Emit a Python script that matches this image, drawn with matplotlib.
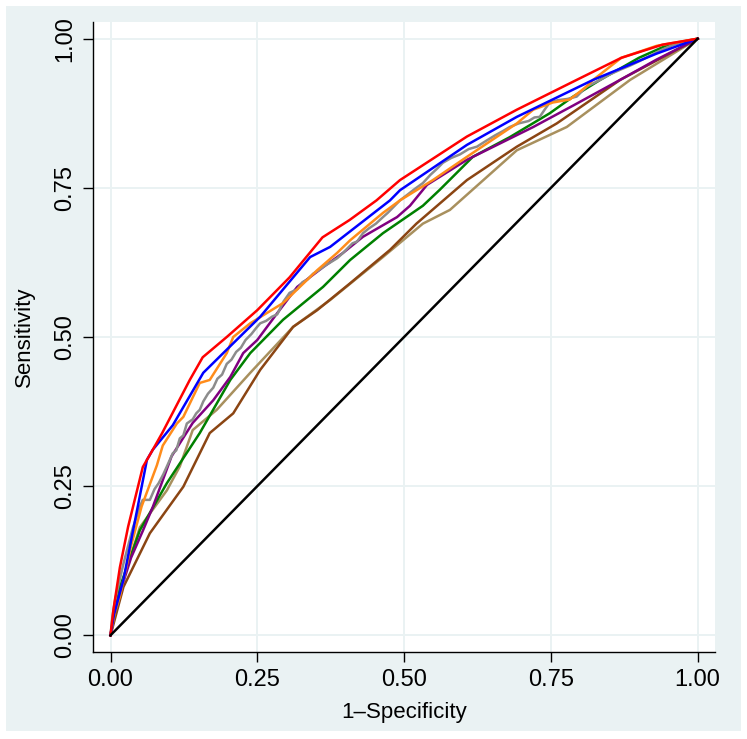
import matplotlib
matplotlib.use("Agg")
import matplotlib.pyplot as plt
from matplotlib.patches import Rectangle

# ── ROC curves (1-specificity, sensitivity) ───────────────────────────────────
red_x = [0, 0.005, 0.016, 0.03, 0.055, 0.072, 0.088, 0.135, 0.157, 0.198, 0.25,
         0.305, 0.361, 0.407, 0.453, 0.493, 0.607, 0.692, 0.794, 0.87, 0.94, 1.0]
red_y = [0, 0.043, 0.114, 0.182, 0.282, 0.311, 0.339, 0.428, 0.466, 0.5, 0.545,
         0.6, 0.667, 0.696, 0.729, 0.763, 0.836, 0.881, 0.931, 0.968, 0.99, 1.0]

blue_x = [0, 0.006, 0.022, 0.062, 0.072, 0.106, 0.158, 0.192, 0.255, 0.34, 0.374,
          0.476, 0.493, 0.607, 0.692, 0.822, 0.93, 1.0]
blue_y = [0, 0.035, 0.093, 0.294, 0.311, 0.352, 0.44, 0.473, 0.534, 0.634, 0.651,
          0.729, 0.746, 0.822, 0.869, 0.931, 0.975, 1.0]

orange_x = [0, 0.008, 0.016, 0.035, 0.053, 0.079, 0.089, 0.113, 0.124, 0.152, 0.169,
            0.198, 0.209, 0.238, 0.294, 0.352, 0.386, 0.408, 0.464, 0.493, 0.549,
            0.607, 0.692, 0.72, 0.753, 0.782, 0.811, 0.822, 0.87, 0.93, 1.0]
orange_y = [0, 0.04, 0.065, 0.15, 0.216, 0.285, 0.318, 0.355, 0.366, 0.423, 0.428,
            0.473, 0.5, 0.523, 0.557, 0.612, 0.641, 0.662, 0.708, 0.729, 0.763,
            0.802, 0.858, 0.881, 0.893, 0.898, 0.92, 0.931, 0.968, 0.988, 1.0]

gray_x = [0, 0.003, 0.008, 0.015, 0.022, 0.03, 0.038, 0.045, 0.05, 0.055, 0.067,
          0.075, 0.082, 0.09, 0.096, 0.106, 0.112, 0.118, 0.124, 0.13, 0.14, 0.146,
          0.152, 0.158, 0.166, 0.175, 0.182, 0.19, 0.198, 0.206, 0.214, 0.222, 0.23,
          0.24, 0.248, 0.255, 0.265, 0.275, 0.284, 0.295, 0.305, 0.318, 0.327, 0.335,
          0.345, 0.355, 0.366, 0.376, 0.386, 0.396, 0.405, 0.412, 0.42, 0.43, 0.44,
          0.452, 0.464, 0.472, 0.48, 0.493, 0.505, 0.518, 0.532, 0.545, 0.556, 0.566,
          0.58, 0.595, 0.61, 0.624, 0.64, 0.655, 0.668, 0.68, 0.695, 0.712, 0.722,
          0.731, 0.74, 0.748, 0.762, 0.778, 0.794, 0.803, 0.811, 0.822, 0.834, 0.85,
          0.868, 0.885, 0.9, 0.92, 0.94, 0.96, 0.98, 1.0]
gray_y = [0, 0.03, 0.06, 0.09, 0.12, 0.15, 0.18, 0.2, 0.216, 0.227, 0.227,
          0.245, 0.255, 0.27, 0.283, 0.305, 0.31, 0.33, 0.335, 0.355, 0.362, 0.372,
          0.378, 0.392, 0.405, 0.415, 0.43, 0.437, 0.455, 0.462, 0.475, 0.482, 0.495,
          0.505, 0.515, 0.523, 0.527, 0.534, 0.538, 0.56, 0.574, 0.58, 0.592, 0.596,
          0.606, 0.612, 0.62, 0.626, 0.632, 0.641, 0.65, 0.657, 0.66, 0.674, 0.682,
          0.69, 0.701, 0.708, 0.716, 0.729, 0.738, 0.748, 0.758, 0.772, 0.782, 0.792,
          0.8, 0.806, 0.815, 0.819, 0.829, 0.838, 0.845, 0.852, 0.858, 0.862, 0.868,
          0.869, 0.882, 0.893, 0.897, 0.899, 0.903, 0.912, 0.92, 0.925, 0.931, 0.94,
          0.948, 0.955, 0.962, 0.972, 0.982, 0.99, 0.996, 1.0]

purple_x = [0, 0.006, 0.016, 0.035, 0.055, 0.072, 0.089, 0.104, 0.14, 0.175, 0.204,
            0.226, 0.25, 0.284, 0.318, 0.362, 0.396, 0.43, 0.488, 0.51, 0.539, 0.607,
            0.72, 0.788, 0.868, 0.93, 1.0]
purple_y = [0, 0.035, 0.071, 0.13, 0.175, 0.215, 0.26, 0.3, 0.356, 0.394, 0.433,
            0.473, 0.495, 0.54, 0.584, 0.617, 0.641, 0.668, 0.701, 0.72, 0.755, 0.797,
            0.852, 0.888, 0.931, 0.965, 1.0]

green_x = [0, 0.016, 0.05, 0.096, 0.152, 0.204, 0.238, 0.294, 0.362, 0.408, 0.464,
           0.532, 0.561, 0.617, 0.68, 0.748, 0.788, 0.834, 0.9, 0.95, 1.0]
green_y = [0, 0.081, 0.176, 0.255, 0.339, 0.428, 0.473, 0.529, 0.584, 0.629, 0.674,
           0.72, 0.747, 0.802, 0.835, 0.875, 0.903, 0.931, 0.968, 0.99, 1.0]

brown_x = [0, 0.022, 0.067, 0.124, 0.169, 0.209, 0.255, 0.311, 0.352, 0.408, 0.476,
           0.521, 0.607, 0.692, 0.76, 0.868, 1.0]
brown_y = [0, 0.081, 0.171, 0.249, 0.339, 0.372, 0.445, 0.517, 0.545, 0.59, 0.646,
           0.69, 0.763, 0.819, 0.858, 0.931, 1.0]

tan_x = [0, 0.016, 0.05, 0.096, 0.118, 0.14, 0.181, 0.238, 0.311, 0.374, 0.464,
         0.532, 0.578, 0.692, 0.777, 0.885, 1.0]
tan_y = [0, 0.076, 0.181, 0.243, 0.283, 0.344, 0.378, 0.44, 0.517, 0.562, 0.634,
         0.69, 0.713, 0.813, 0.852, 0.931, 1.0]

ref_x = [0, 1]
ref_y = [0, 1]

TICKS = [0, 0.25, 0.5, 0.75, 1.0]
TICK_LABELS = ["0.00", "0.25", "0.50", "0.75", "1.00"]

SERIES = [
    (tan_x, tan_y, "#A8905E"),
    (brown_x, brown_y, "#8B4513"),
    (green_x, green_y, "#008000"),
    (purple_x, purple_y, "#800080"),
    (gray_x, gray_y, "#8C8C8C"),
    (orange_x, orange_y, "#FF8C1A"),
    (blue_x, blue_y, "#0000FF"),
    (red_x, red_y, "#FF0000"),
]

BG = "#EAF2F3"
plt.rcParams["font.family"] = ["Liberation Sans", "DejaVu Sans"]

W, H = 747, 739
fig = plt.figure(figsize=(W / 100, H / 100), dpi=100, facecolor="white")
# stata-style light background panel, kept under the axes
fig.add_artist(Rectangle((6 / W, 8 / H), 735 / W, 725 / H,
                         transform=fig.transFigure, facecolor=BG,
                         edgecolor="none", zorder=-5))

ax = fig.add_axes([93.3 / W, 1 - 652 / H, (715 - 93.3) / W, (652 - 22) / H])
ax.set_zorder(2)
ax.set_facecolor("white")
ax.set_xlim(-0.0293, 1.0295)
ax.set_ylim(-0.028, 1.028)

for x, y, c in SERIES:
    ax.plot(x, y, color=c, lw=1.8, solid_joinstyle="round", zorder=3)
ax.plot(ref_x, ref_y, color="black", lw=1.8, zorder=3)

ax.set_xticks(TICKS)
ax.set_xticklabels(TICK_LABELS)
ax.set_yticks(TICKS)
ax.set_yticklabels(TICK_LABELS, rotation=90, va="center")
ax.tick_params(axis="both", length=7.5, width=1, color="black", labelsize=17,
               pad=5)
ax.grid(True, color=BG, lw=1.4, zorder=1)
ax.set_axisbelow(True)

for side in ["top", "right"]:
    ax.spines[side].set_visible(False)
for side in ["left", "bottom"]:
    ax.spines[side].set_linewidth(1)
    ax.spines[side].set_color("black")

ax.set_xlabel("1\u2013Specificity", fontsize=16, labelpad=8)
ax.set_ylabel("Sensitivity", fontsize=16, labelpad=14)

fig.savefig("out.png", dpi=100, facecolor="white")
